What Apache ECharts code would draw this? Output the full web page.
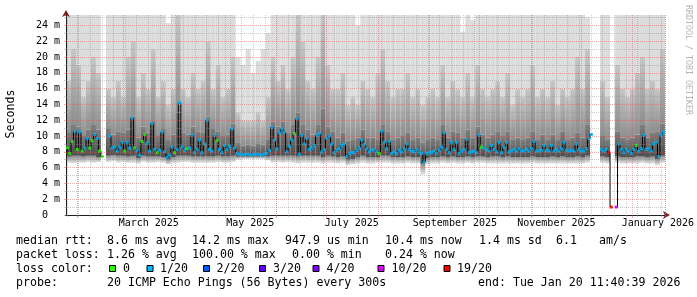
<!DOCTYPE html>
<html>
<head>
<meta charset="utf-8">
<script src="https://cdn.jsdelivr.net/npm/echarts@6.0.0/dist/echarts.min.js"></script>
<style>
html,body{margin:0;padding:0;background:#ffffff;}
#chart{width:697px;height:297px;}
</style>
</head>
<body>
<div id="chart"></div>
<script>
// ================= DATA =================
// median RTT (ms), one value per 1.5-day step, 360 days ending Tue Jan 20 11:40:39 2026
const medianRtt = [
 8.5,7.8,9.3,10.6,8.3,10.5,8.1,8.5,9.7,8.5,
 9.4,10.2,9.7,8.1,7.4,null,null,10.0,8.5,8.6,
 8.1,8.6,9.2,8.1,9.2,8.5,12.3,8.5,8.2,7.6,
 9.3,10.2,9.1,8.1,11.6,8.3,7.9,8.2,10.5,8.0,
 7.3,7.6,8.6,7.9,8.3,14.2,8.6,8.2,8.4,8.5,
 10.1,7.9,8.3,9.5,7.9,9.0,12.0,8.3,8.1,10.1,
 9.4,8.3,7.9,8.8,8.3,8.7,10.9,8.5,7.8,7.7,
 7.7,7.6,7.7,7.7,7.6,7.7,7.7,7.7,7.6,7.7,
 7.8,8.2,11.1,9.5,8.4,10.4,10.9,10.5,8.0,8.7,
 9.5,10.3,12.2,7.7,10.1,9.0,9.7,8.3,8.5,8.8,
 10.1,10.3,8.0,8.3,9.7,10.0,9.0,7.9,8.2,8.4,
 8.8,9.0,7.4,7.8,7.9,7.9,8.2,8.5,9.5,8.9,
 8.4,8.0,8.2,8.3,8.0,7.8,10.6,9.2,8.4,9.3,
 7.8,8.0,7.8,8.2,8.0,8.4,9.0,8.3,8.1,8.0,
 8.3,8.0,7.8,6.7,7.8,7.9,7.9,8.1,7.8,8.2,
 8.6,10.4,8.3,7.9,9.2,8.3,9.2,7.8,8.1,8.3,
 9.6,7.9,8.0,8.1,7.9,10.1,8.6,8.5,8.3,8.1,
 8.8,8.3,8.0,9.2,7.9,8.6,9.2,8.0,8.1,8.3,
 8.1,8.4,8.1,8.1,8.3,8.1,8.4,9.3,8.1,8.1,
 8.2,8.8,8.2,8.1,8.8,8.1,8.3,8.1,8.4,9.2,
 8.2,8.1,8.2,8.1,9.0,8.3,8.1,8.1,8.4,9.7,
 10.2,null,null,null,8.3,8.1,8.3,7.9,1.0,null,
 1.0,9.0,8.3,7.9,8.3,8.1,7.8,8.3,8.8,8.1,
 8.4,10.1,8.3,8.4,8.1,9.0,9.2,7.4,10.1,10.5
];
// loss class per step: 0=0, 1=1/20, 2=2/20, 3=3/20, 4=4/20, 5=10/20, 6=19/20
const lossClass = [
 0,0,0,1,0,1,0,1,1,0,
 0,1,1,0,0,1,1,1,1,1,
 1,1,1,0,1,1,1,0,1,1,
 0,0,1,1,1,1,0,1,1,1,
 1,1,1,0,1,1,1,1,0,1,
 1,1,1,1,1,1,1,1,1,1,
 0,1,1,1,1,1,1,1,1,1,
 1,1,1,1,1,1,1,1,1,1,
 1,1,1,1,1,1,1,1,1,1,
 1,0,1,1,1,1,1,1,1,1,
 1,1,1,1,1,1,1,1,1,1,
 1,1,1,1,1,1,1,1,1,1,
 1,1,1,1,1,0,1,1,1,1,
 1,1,1,1,1,1,1,1,1,1,
 1,1,1,1,1,1,1,1,1,1,
 1,1,1,1,1,1,1,1,1,1,
 1,1,1,1,1,1,0,1,1,1,
 1,1,1,1,1,1,1,1,1,1,
 1,1,1,1,1,1,1,1,1,1,
 1,1,1,1,1,1,1,1,1,1,
 1,1,1,1,1,1,1,1,1,1,
 1,1,1,1,1,1,1,6,6,1,
 5,1,1,1,1,1,1,1,0,1,
 1,1,1,1,1,1,1,1,1,1
];
// smoke (ping spread, ms), one value per 3-day step
const smokeMin = [
 6.6,6.5,6.6,6.6,6.7,6.6,6.7,null,6.7,6.8,
 6.6,6.7,6.6,6.6,6.5,6.7,6.6,6.6,6.7,6.6,
 6.4,6.6,6.6,6.7,6.7,6.6,6.6,6.6,6.6,6.6,
 6.7,6.6,6.6,6.7,7.0,7.1,7.1,7.1,7.1,7.1,
 6.9,6.6,6.7,6.6,6.7,6.6,6.5,6.6,6.6,6.6,
 6.6,6.5,6.6,6.6,6.5,6.6,6.3,6.4,6.5,6.6,
 6.5,6.5,6.6,6.6,6.6,6.5,6.5,6.5,6.6,6.5,
 6.5,5.1,6.4,6.5,6.5,6.6,6.5,6.6,6.5,6.5,
 6.6,6.5,6.6,6.6,6.5,6.5,6.5,6.5,6.5,6.5,
 6.5,6.5,6.5,6.6,6.5,6.5,6.5,6.5,6.5,6.5,
 6.5,6.5,6.5,6.5,6.6,null,null,6.6,6.5,null,
 6.6,6.5,6.5,6.5,6.5,6.6,6.5,6.5,6.3,6.6
];
const smokeCoreLow = [
 7.4,7.5,7.5,7.4,7.5,7.5,7.3,null,7.5,7.6,
 7.5,7.5,7.4,7.5,7.2,7.5,7.4,7.4,7.4,7.3,
 7.0,7.3,7.5,7.5,7.5,7.4,7.4,7.4,7.4,7.4,
 7.5,7.4,7.4,7.5,7.4,7.4,7.4,7.4,7.4,7.4,
 7.4,7.5,7.5,7.5,7.5,7.5,7.4,7.5,7.5,7.5,
 7.5,7.3,7.5,7.4,7.3,7.4,7.0,7.1,7.3,7.5,
 7.3,7.3,7.3,7.5,7.5,7.3,7.3,7.3,7.4,7.3,
 7.3,6.5,7.2,7.3,7.3,7.4,7.3,7.4,7.3,7.3,
 7.4,7.3,7.4,7.4,7.3,7.4,7.4,7.3,7.4,7.3,
 7.3,7.3,7.3,7.4,7.3,7.3,7.3,7.4,7.3,7.4,
 7.3,7.3,7.4,7.3,7.5,null,null,7.4,7.3,null,
 7.4,7.3,7.3,7.3,7.4,7.4,7.3,7.4,7.1,7.5
];
const smokeCoreHigh = [
 10.5,11.5,11.2,10.0,10.8,11.5,10.8,null,11.0,10.2,
 10.6,10.4,10.8,12.5,9.8,11.2,10.4,12.0,10.0,11.0,
 9.5,10.2,13.0,10.4,10.2,11.2,10.6,10.4,12.5,11.0,
 10.6,10.0,10.2,11.6,9.2,8.8,8.9,8.8,9.0,8.9,
 9.6,11.8,11.2,11.8,10.4,11.4,13.0,11.4,10.8,10.2,
 11.4,13.5,11.2,10.6,9.8,10.4,9.4,9.6,9.8,10.8,
 9.8,9.8,9.6,11.4,10.6,9.6,9.8,10.0,10.4,9.6,
 9.8,9.2,9.6,9.8,9.6,11.4,9.8,10.6,10.4,9.8,
 10.8,9.8,11.2,10.2,9.8,10.2,10.6,10.0,10.6,9.6,
 9.8,9.6,9.8,10.6,9.6,10.2,9.6,10.2,9.6,10.6,
 9.6,9.8,10.4,9.8,11.4,null,null,10.0,9.6,null,
 10.6,9.8,9.6,9.8,10.2,11.4,9.8,10.4,10.6,11.6
];
const smokeMid = [
 17,21,19,15,17,20,18,null,16,15,
 17,15,20,22,15,18,16,21,15,17,
 14,16,26,16,15,18,16,17,22,16,
 19,15,16,20,13,12,12,12,13,12,
 15,20,17,19,16,20,26,22,17,16,
 20,26,19,16,16,18,14,15,14,17,
 16,15,18,21,17,15,16,16,18,15,
 16,14,15,16,15,19,15,17,16,15,
 18,15,19,16,15,16,17,15,18,14,
 16,15,16,19,15,16,15,17,14,16,
 15,16,20,16,21,null,null,17,15,null,
 19,16,15,16,18,20,16,17,16,21
];
const smokeMax = [
 26,26,26,26,26,26,26,null,26,26,
 26,26,26,26,26,26,26,26,26,26,
 24.3,26,26,26,26,26,26,26,26,26,
 26,26,26,26,20,19,21,18,19.5,21,
 23,26,26,26,26,26,26,26,26,26,
 26,26,26,26,26,26,26,26,24,26,
 26,26,26,26,26,26,26,26,26,26,
 26,26,26,26,26,26,26,26,26,23.2,
 26,24.7,26,26,26,26,26,26,26,26,
 26,26,26,26,26,26,26,26,26,26,
 26,26,26,26,25,null,null,26,26,null,
 26,26,26,26,26,26,26,26,26,26
];
const yTickValues = [0,2,4,6,8,10,12,14,16,18,20,22,24];
const yTickLabels = ['0\u00a0\u00a0','2 m','4 m','6 m','8 m','10 m','12 m','14 m','16 m','18 m','20 m','22 m','24 m'];
const yMinorValues = [1,3,5,7,9,11,13,15,17,19,21,23,25];
const monthLabels = ['March 2025','May 2025','July 2025','September 2025','November 2025','January 2026'];
const monthLabelDates = ['2025-03-16','2025-05-16','2025-07-16','2025-09-16','2025-11-16','2026-01-16'];
const lossLabels = ['0','1/20','2/20','3/20','4/20','10/20','19/20'];
const lossColors = ['#26ff00','#00b8ff','#0059ff','#5e00ff','#7e00ff','#dd00ff','#ff0000'];
const rttStats = ['8.6 ms avg','14.2 ms max','947.9 us min','10.4 ms now','1.4 ms sd','6.1','am/s'];
const lossStats = ['1.26 % avg','100.00 % max','0.00 % min','0.24 % now'];
const probeText = '20 ICMP Echo Pings (56 Bytes) every 300s';
const endText = 'end: Tue Jan 20 11:40:39 2026';

// ================= LAYOUT / STYLE =================
const MONO = '"DejaVu Sans Mono", monospace';
const RANGE_DAYS = 360, MED_STEP = 1.5, SMOKE_STEP = 3;
const Y_MAX = 25.32;
const GRID_MINOR = 'rgba(143,143,143,0.46)';
const GRID_MAJOR = 'rgba(222,80,80,0.46)';
const AXIS_COLOR = '#1f1f1f', ARROW_COLOR = '#7f1f1f';

const HALF = 12 * 3600 * 1000;
const t0 = Date.UTC(2025, 0, 25, 12);
const halfDays = [];
for (let k = 0; k < RANGE_DAYS * 2; k++) halfDays.push(new Date(t0 + k * HALF).toISOString().slice(0, 13));
const dAt = k => new Date(t0 + k * HALF);
const isMonthStart = k => { const d = dAt(k); return k > 0 && d.getUTCDate() === 1 && d.getUTCHours() === 0; };
const isWeekStart = k => { const d = dAt(k); return k > 0 && d.getUTCDay() === 0 && d.getUTCHours() === 0; };
const labelMap = {};
monthLabelDates.forEach((d, i) => { labelMap[d + 'T00'] = monthLabels[i]; });

const smokeData = [];
smokeMin.forEach((v, i) => {
  if (v == null) return;
  smokeData.push([i * SMOKE_STEP, v, smokeCoreLow[i], smokeCoreHigh[i], smokeMid[i], smokeMax[i]]);
});
const medLine = medianRtt.map((v, j) => [j * MED_STEP + MED_STEP / 2, v == null ? '-' : v]);
const medDots = [];
medianRtt.forEach((v, j) => {
  if (v == null) return;
  medDots.push({ value: [j * MED_STEP + MED_STEP / 2, v], itemStyle: { color: lossColors[lossClass[j]] } });
});

const bandFills = [
  ['#e6e6e6', '#8a8a8a'],
  ['#4e4e4e', '#7e7e7e'],
  ['#8e8e8e', '#c6c6c6'],
  ['#dcdcdc', '#dcdcdc']
];
function renderSmoke(params, api) {
  const cs = params.coordSys;
  const d = api.value(0);
  const xa = api.coord([d, 0])[0], xb = api.coord([d + SMOKE_STEP, 0])[0];
  const top = cs.y, bot = cs.y + cs.height;
  const yy = v => Math.min(bot, Math.max(top, api.coord([d, v])[1]));
  const vals = [api.value(1), api.value(2), api.value(3), api.value(4), api.value(5)];
  const children = [];
  for (let b = 0; b < 4; b++) {
    const y0 = yy(vals[b]), y1 = yy(vals[b + 1]);
    if (y0 - y1 <= 0) continue;
    children.push({
      type: 'rect',
      shape: { x: xa, y: y1, width: xb - xa, height: y0 - y1 },
      style: { fill: new echarts.graphic.LinearGradient(0, 1, 0, 0, [
        { offset: 0, color: bandFills[b][0] }, { offset: 1, color: bandFills[b][1] }]) }
    });
  }
  return { type: 'group', children };
}

// legend graphics
const graphics = [];
const T = (x, y, text, extra) => graphics.push(Object.assign({
  type: 'text', x, y, silent: true,
  style: { text, font: '11.6px ' + MONO, fill: '#000', align: 'left', verticalAlign: 'middle' }
}, extra || {}));
T(16, 241, 'median rtt:');
[107, 192, 285, 385, 479, 556, 599].forEach((x, i) => T(x, 241, rttStats[i]));
T(16, 255, 'packet loss:');
[107, 192, 292, 385].forEach((x, i) => T(x, 255, lossStats[i]));
T(16, 269, 'loss color:');
const sqX = [109.5, 147, 203.5, 259.5, 313, 378, 444];
const lbX = [123, 160, 216.5, 273, 326.5, 391.5, 457];
lossLabels.forEach((l, i) => {
  graphics.push({ type: 'rect', silent: true, shape: { x: sqX[i], y: 265.5, width: 6, height: 6 },
    style: { fill: lossColors[i], stroke: '#000', lineWidth: 1 } });
  T(lbX[i], 269, l);
});
T(16, 283, 'probe:');
T(107, 283, probeText);
T(478, 283, endText);
graphics.push({ type: 'text', x: 11, y: 114, rotation: Math.PI / 2, silent: true,
  style: { text: 'Seconds', font: '11.6px ' + MONO, fill: '#000', align: 'center', verticalAlign: 'middle' } });
graphics.push({ type: 'text', x: 688, y: 5, rotation: -Math.PI / 2, silent: true,
  style: { text: 'RRDTOOL / TOBI OETIKER', font: '8.3px ' + MONO, fill: '#b4b4b4', align: 'left', verticalAlign: 'middle' } });

const chart = echarts.init(document.getElementById('chart'), null, { renderer: 'canvas' });
chart.setOption({
  animation: false,
  backgroundColor: '#ffffff',
  textStyle: { fontFamily: MONO },
  grid: { left: 66, top: 15, width: 600, height: 200, containLabel: false },
  xAxis: [
    { // labels, month grid, main axis line
      type: 'category', data: halfDays, boundaryGap: true, position: 'bottom', z: 3,
      axisLine: { show: true, lineStyle: { color: AXIS_COLOR, width: 1 } },
      axisTick: { show: true, interval: (i) => isMonthStart(i), length: 3, lineStyle: { color: GRID_MAJOR } },
      axisLabel: { show: true, interval: (i, v) => !!labelMap[v], formatter: v => labelMap[v] || '',
        fontFamily: MONO, fontSize: 10, color: '#000', margin: 3 },
      splitLine: { show: true, interval: (i) => isMonthStart(i), lineStyle: { color: GRID_MAJOR, type: [1, 1], width: 1 } }
    },
    { type: 'value', min: 0, max: RANGE_DAYS, show: false },
    { // weekly grid
      type: 'category', data: halfDays, boundaryGap: true, position: 'bottom', z: 3,
      axisLine: { show: false }, axisLabel: { show: false },
      axisTick: { show: true, interval: (i) => isWeekStart(i), length: 2, lineStyle: { color: GRID_MINOR } },
      splitLine: { show: true, interval: (i) => isWeekStart(i), lineStyle: { color: GRID_MINOR, type: [1, 1], width: 1 } }
    },
    { // arrow
      type: 'value', min: 0, max: RANGE_DAYS, position: 'bottom', z: 2,
      axisLine: { show: true, lineStyle: { color: ARROW_COLOR, width: 1 }, symbol: ['none', 'arrow'], symbolSize: [6, 7], symbolOffset: [0, 5] },
      axisTick: { show: false }, axisLabel: { show: false }, splitLine: { show: false }
    }
  ],
  yAxis: [
    {
      type: 'value', min: 0, max: Y_MAX, interval: 2, position: 'left', z: 3,
      axisLine: { show: true, lineStyle: { color: AXIS_COLOR, width: 1 } },
      axisTick: { show: true, length: 2, lineStyle: { color: GRID_MAJOR } },
      minorTick: { show: true, splitNumber: 2, length: 2, lineStyle: { color: GRID_MINOR } },
      axisLabel: { show: true, fontFamily: MONO, fontSize: 10, color: '#000', margin: 6,
        formatter: v => { const i = yTickValues.indexOf(v); return i >= 0 ? yTickLabels[i] : ''; } },
      splitLine: { show: false }
    },
    {
      type: 'value', min: 0, max: Y_MAX, position: 'left', z: 2,
      axisLine: { show: true, lineStyle: { color: ARROW_COLOR, width: 1 }, symbol: ['none', 'arrow'], symbolSize: [6, 7], symbolOffset: [0, 5] },
      axisTick: { show: false }, axisLabel: { show: false }, splitLine: { show: false }
    }
  ],
  series: [
    { type: 'custom', name: 'smoke', xAxisIndex: 1, yAxisIndex: 0, z: 1, silent: true,
      renderItem: renderSmoke, data: smokeData },
    { type: 'line', name: 'grid', xAxisIndex: 1, yAxisIndex: 0, data: [], z: 3, silent: true,
      markLine: { silent: true, symbol: ['none', 'none'], label: { show: false }, animation: false,
        emphasis: { disabled: true },
        data: yMinorValues.map(v => ({ yAxis: v, lineStyle: { color: GRID_MINOR, type: [1, 1], width: 1 } }))
          .concat(yTickValues.filter(v => v > 0).map(v => ({ yAxis: v, lineStyle: { color: GRID_MAJOR, type: [1, 1], width: 1 } }))) } },
    { type: 'line', name: 'median', xAxisIndex: 1, yAxisIndex: 0, data: medLine, step: 'middle',
      symbol: 'none', showSymbol: false, connectNulls: false, z: 4, silent: true,
      lineStyle: { color: '#000000', width: 1 } },
    { type: 'scatter', name: 'loss', xAxisIndex: 1, yAxisIndex: 0, data: medDots, z: 5, silent: true,
      symbol: 'rect', symbolSize: [3, 3] }
  ],
  graphic: graphics
});
</script>
</body>
</html>
